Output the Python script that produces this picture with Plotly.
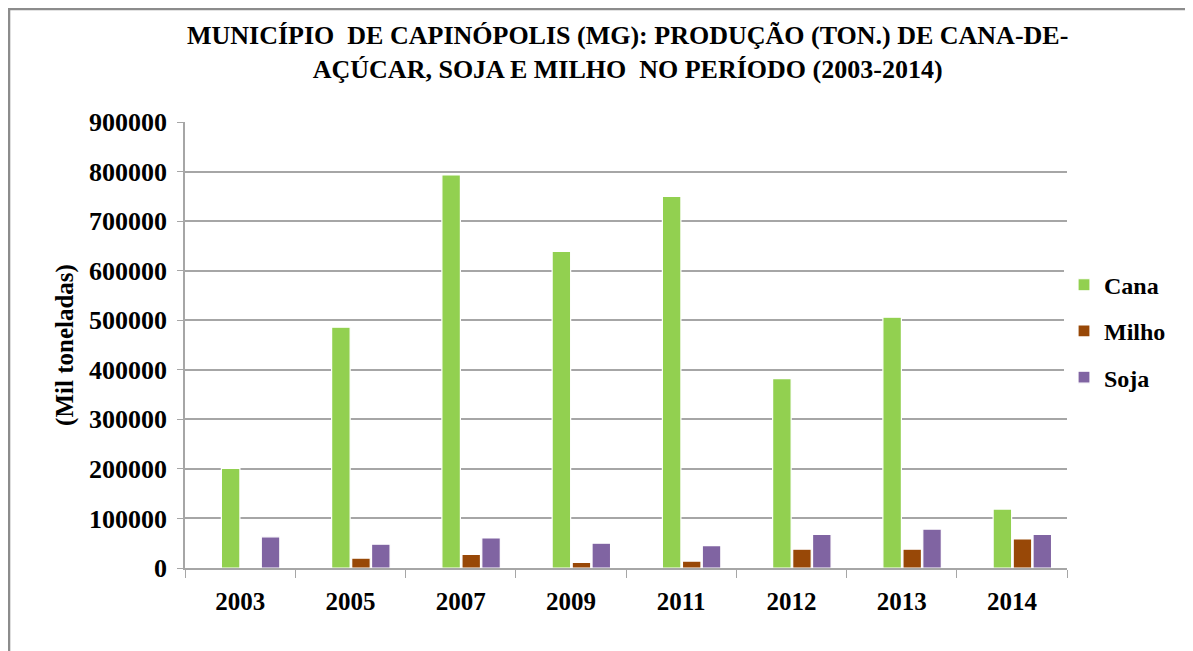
import plotly.graph_objects as go

anos = ["2003", "2005", "2007", "2009", "2011", "2012", "2013", "2014"]
cana = [201000, 486000, 793000, 639000, 750000, 382000, 506000, 119000]
milho = [0, 20000, 27500, 11500, 14000, 38000, 38000, 58500]
soja = [63000, 48000, 60500, 50000, 45000, 68000, 78500, 68000]

fonte = "Liberation Serif, Times New Roman, serif"


def f(size):
    return dict(family=fonte, size=size, color="black", weight="bold")


fig = go.Figure()
# no original os grupos de barras ficam um pouco à direita do centro da categoria
for nome, valores, cor, desloc in [("Cana", cana, "#92D050", -0.17),
                                   ("Milho", milho, "#984807", 0.012),
                                   ("Soja", soja, "#8064A2", 0.192)]:
    fig.add_trace(go.Bar(
        x=anos, y=valores, name=nome, legendgroup=nome,
        offset=desloc, width=0.168,
        marker=dict(color=cor, line=dict(color="white", width=1.2)),
    ))

# moldura do gráfico (só as bordas de cima e da esquerda aparecem)
fig.add_shape(type="rect", xref="paper", yref="paper",
              x0=-0.1995, x1=1.3, y0=-0.4, y1=1.2534,
              line=dict(color="#8C8C8C", width=2.5), layer="below")

fig.add_annotation(
    text="MUNICÍPIO  DE CAPINÓPOLIS (MG): PRODUÇÃO (TON.) DE CANA-DE-<br>AÇÚCAR, SOJA E MILHO  NO PERÍODO (2003-2014)",
    xref="paper", yref="paper", x=0.502, y=1.155, yanchor="middle",
    showarrow=False, font=f(26), align="center",
)

fig.update_layout(
    width=1193, height=651,
    margin=dict(l=177, r=134, t=114, b=91),
    paper_bgcolor="white", plot_bgcolor="white",
    barmode="overlay",
    font=dict(family=fonte, color="black"),
    showlegend=True,
    legend=dict(x=0.9966, y=0.531, xanchor="left", yanchor="middle",
                font=f(24), tracegroupgap=12, itemwidth=30),
    xaxis=dict(
        tickfont=f(25), ticklabelstandoff=10,
        showline=True, linecolor="#A6A6A6", linewidth=1.5,
        ticks="outside", tickson="boundaries", ticklen=8, tickcolor="#A6A6A6",
        showgrid=False,
    ),
    yaxis=dict(
        range=[0, 900000], dtick=100000, tickformat="d",
        tickfont=f(26), ticklabelstandoff=5,
        showline=True, linecolor="#A6A6A6", linewidth=1.5,
        ticks="outside", ticklen=6, tickcolor="#A6A6A6",
        showgrid=True, gridcolor="#A6A6A6", gridwidth=1.5,
        zeroline=False,
        title=dict(text="(Mil toneladas)", standoff=8, font=f(25)),
    ),
)

fig.write_html("out.html")
